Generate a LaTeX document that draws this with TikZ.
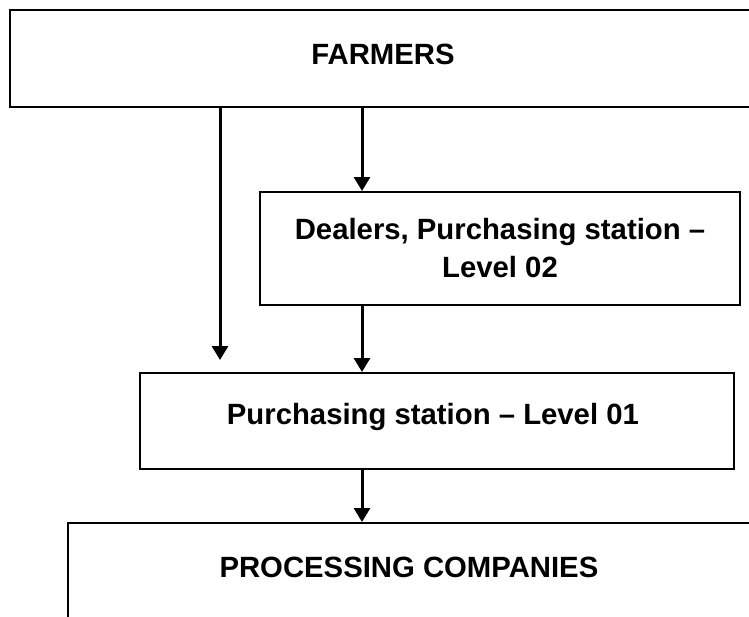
\documentclass[tikz,border=0pt]{standalone}
\usepackage{fontspec}
\setmainfont{Liberation Sans}
\usetikzlibrary{
  positioning,
  arrows.meta
}

\begin{document}
\begin{tikzpicture}[
  x=1pt, y=-1pt,
  level/.style={draw, line width=2pt, align=center, inner sep=0pt,
                font=\fontsize{29.3}{38}\selectfont\bfseries},
  arr/.style={-{Triangle[length=14pt, width=16pt]}, line width=3pt}
]
  \clip (0,0) rectangle (749,616);

  \node[level, minimum width=746pt, minimum height=97pt, text depth=8pt] (farmers) at (383, 58.5) {FARMERS};

  \node[level, minimum width=480pt, minimum height=113pt] (dealers) at (500, 248.5) {
    Dealers, Purchasing station --\\
    Level 02
  };

  \node[level, minimum width=594pt, minimum height=96pt, text depth=14pt] (lvlone) at (437, 421) {
    Purchasing station -- Level 01
  };

  \node[level, minimum width=690pt, minimum height=140pt, text depth=52pt] (processing) at (413, 593) {
    PROCESSING COMPANIES
  };

  \coordinate (direct) at (220, 360);
  \coordinate (trunk) at (362, 0);

  \draw[arr] (farmers.south -| direct) -- (direct);
  \draw[arr] (farmers.south -| trunk) -- (dealers.north -| trunk);
  \draw[arr] (dealers.south -| trunk) -- (lvlone.north -| trunk);
  \draw[arr] (lvlone.south -| trunk) -- (processing.north -| trunk);
\end{tikzpicture}
\end{document}
